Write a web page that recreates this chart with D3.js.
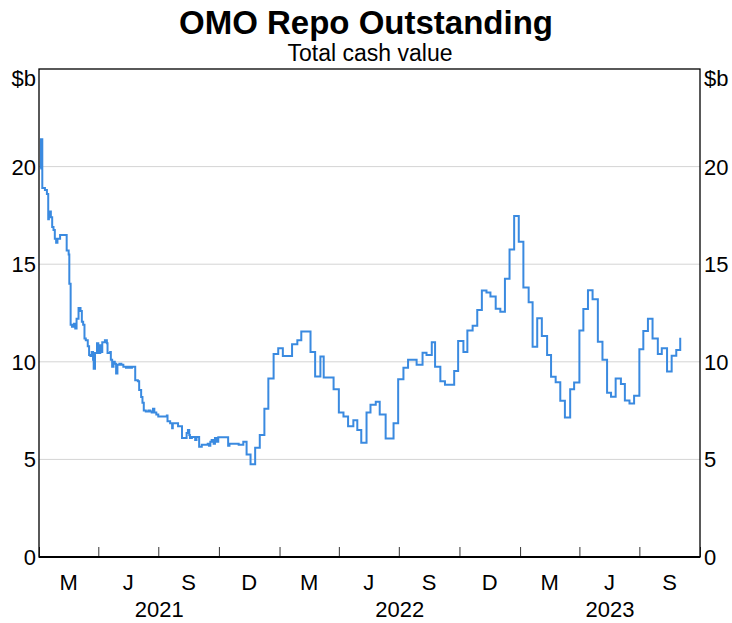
<!DOCTYPE html>
<html>
<head>
<meta charset="utf-8">
<script src="https://cdn.jsdelivr.net/npm/d3@7"></script>
<style>
body{margin:0;background:#fff;}
text{font-family:"Liberation Sans",Arial,Helvetica,sans-serif;fill:#000;}
</style>
</head>
<body>
<div id="chart"></div>
<script>
// step change dates and the value ($b) from that date on
var dates = ["2021-01-03","2021-01-04","2021-01-06","2021-01-10","2021-01-13","2021-01-15","2021-01-16","2021-01-19","2021-01-21","2021-01-23",
"2021-01-25","2021-01-27","2021-01-29","2021-02-02","2021-02-12","2021-02-15","2021-02-16","2021-02-18","2021-02-20","2021-02-23",
"2021-02-25","2021-02-27","2021-03-02","2021-03-05","2021-03-07","2021-03-09","2021-03-11","2021-03-13","2021-03-16","2021-03-18",
"2021-03-20","2021-03-22","2021-03-24","2021-03-25","2021-03-27","2021-03-30","2021-04-01","2021-04-04","2021-04-05","2021-04-07",
"2021-04-11","2021-04-14","2021-04-15","2021-04-19","2021-04-20","2021-04-22","2021-04-24","2021-04-26","2021-04-28","2021-04-30",
"2021-05-03","2021-05-06","2021-05-09","2021-05-13","2021-05-16","2021-05-19","2021-05-22","2021-05-27","2021-05-31","2021-06-02",
"2021-06-05","2021-06-07","2021-06-09","2021-06-12","2021-06-16","2021-06-19","2021-06-21","2021-06-23","2021-06-25","2021-06-28",
"2021-07-01","2021-07-14","2021-07-15","2021-07-19","2021-07-22","2021-07-23","2021-07-31","2021-08-06","2021-08-13","2021-08-15",
"2021-08-17","2021-08-18","2021-08-21","2021-08-26","2021-08-28","2021-09-01","2021-09-05","2021-09-14","2021-09-16","2021-09-18",
"2021-09-20","2021-09-23","2021-09-25","2021-09-28","2021-09-30","2021-10-15","2021-10-17","2021-10-31","2021-11-07","2021-11-12",
"2021-11-18","2021-11-25","2021-12-02","2021-12-09","2021-12-15","2021-12-23","2021-12-30","2022-01-06","2022-01-20","2022-01-28",
"2022-02-03","2022-02-17","2022-02-24","2022-03-04","2022-03-09","2022-03-24","2022-04-01","2022-04-08","2022-04-15","2022-04-23",
"2022-04-29","2022-05-05","2022-05-13","2022-05-19","2022-05-27","2022-06-02","2022-06-11","2022-06-23","2022-06-30","2022-07-08",
"2022-07-15","2022-07-28","2022-08-06","2022-08-12","2022-08-20","2022-08-25","2022-09-02","2022-09-09","2022-09-23","2022-09-29",
"2022-10-07","2022-10-13","2022-10-21","2022-10-28","2022-11-04","2022-11-11","2022-11-17","2022-11-25","2022-12-02","2022-12-09",
"2022-12-16","2022-12-23","2022-12-30","2023-01-06","2023-01-14","2023-01-20","2023-01-27","2023-02-03","2023-02-11","2023-02-17",
"2023-02-24","2023-03-03","2023-03-10","2023-03-18","2023-03-24","2023-04-01","2023-04-07","2023-04-14","2023-04-21","2023-04-29",
"2023-05-06","2023-05-13","2023-05-19","2023-05-26","2023-06-03","2023-06-09","2023-06-16","2023-06-23","2023-07-01","2023-07-07",
"2023-07-14","2023-07-21","2023-07-29","2023-08-04","2023-08-12","2023-08-19","2023-08-26","2023-09-01"];

var values = [19.9,21.4,18.9,18.8,18.6,17.3,17.7,17.4,16.9,16.75,
16.3,16.1,16.3,16.5,15.7,15.5,14.0,11.9,11.8,11.95,
11.7,12.2,12.75,12.6,12.05,11.9,11.2,11.1,10.8,10.35,
10.3,10.5,10.1,9.65,10.45,10.95,10.45,10.85,10.5,11.0,
11.1,10.95,10.45,10.5,10.1,9.75,10.0,9.9,9.4,9.85,
9.9,9.85,9.75,9.7,9.75,9.7,9.75,9.05,9.0,8.55,
8.2,7.9,7.5,7.45,7.5,7.45,7.4,7.6,7.4,7.3,
7.2,7.25,6.95,6.85,6.6,6.85,6.7,6.1,6.35,6.5,
6.25,6.1,6.15,6.0,6.15,5.65,5.75,5.8,5.7,5.9,
6.0,5.8,6.1,5.9,6.13,5.7,5.8,5.75,5.9,5.25,
4.75,5.6,6.25,7.6,9.15,10.4,10.7,10.3,10.9,11.1,
11.55,10.5,9.25,10.27,9.2,8.6,7.4,7.2,6.7,7.0,
6.5,5.85,7.4,7.8,7.95,7.3,6.07,6.85,9.1,9.7,
10.1,9.85,10.47,10.35,11.0,9.75,9.0,8.82,9.53,11.07,
10.5,11.6,11.85,12.65,13.65,13.55,13.35,12.72,12.57,14.25,
15.75,17.47,16.15,13.8,13.05,10.77,12.23,11.32,10.35,9.24,
8.95,8.0,7.15,8.6,8.94,11.6,12.7,13.67,13.2,11.03,
10.1,8.42,8.21,9.15,8.86,8.02,7.87,8.26,10.64,11.58,
12.2,11.2,10.4,10.69,9.5,10.31,10.6,11.23];

var yTicks = [0,5,10,15,20];
var monthLabels = ["M","J","S","D","M","J","S","D","M","J","S"];
var yearLabels = ["2021","2022","2023"];

var W = 732, H = 623;
var margin = {top: 69, right: 32, bottom: 66, left: 39};
var width = W - margin.left - margin.right,
    height = H - margin.top - margin.bottom;

var parse = d3.utcParse("%Y-%m-%d");
var start = parse("2021-01-01"), end = parse("2023-10-01");

var data = dates.map(function(d, i) { return {date: parse(d), value: values[i]}; });

var svg = d3.select("#chart").append("svg").attr("width", W).attr("height", H);

var x = d3.scaleUtc().domain([start, end]).range([0, width]);
var y = d3.scaleLinear().domain([0, 25]).range([height, 0]);

var g = svg.append("g").attr("transform", "translate(" + margin.left + "," + margin.top + ")");

// title
svg.append("text").attr("x", 366).attr("y", 34).attr("text-anchor", "middle")
    .style("font-size", "33px").style("font-weight", "bold").text("OMO Repo Outstanding");
svg.append("text").attr("x", 370).attr("y", 61).attr("text-anchor", "middle")
    .style("font-size", "23px").text("Total cash value");

// horizontal grid
g.append("g").selectAll("line").data(yTicks.filter(function(d) { return d > 0; }))
  .enter().append("line")
    .attr("x1", 0).attr("x2", width)
    .attr("y1", function(d) { return y(d); }).attr("y2", function(d) { return y(d); })
    .attr("stroke", "#d4d4d4").attr("stroke-width", 1);

// y labels both sides
var yl = g.append("g").style("font-size", "22px");
yl.selectAll(".yl").data(yTicks).enter().append("text")
    .attr("x", -3).attr("y", function(d) { return y(d); }).attr("dy", "0.36em")
    .attr("text-anchor", "end").text(function(d) { return d; });
yl.selectAll(".yr").data(yTicks).enter().append("text")
    .attr("x", width + 4).attr("y", function(d) { return y(d); }).attr("dy", "0.36em")
    .text(function(d) { return d; });
yl.append("text").attr("x", -3).attr("y", 17).attr("text-anchor", "end").text("$b");
yl.append("text").attr("x", width + 4).attr("y", 17).text("$b");

// quarter ticks on the x axis
g.append("g")
    .attr("transform", "translate(0," + height + ")")
    .call(d3.axisBottom(x).ticks(d3.utcMonth.every(3)).tickSize(-10).tickFormat(""))
    .call(function(a) { a.select(".domain").remove(); })
    .selectAll("line").attr("stroke", "#000").attr("stroke-width", 0.8);

// month letters centred in each quarter
var quarters = d3.utcMonth.every(3).range(start, end);
g.append("g").style("font-size", "22px").selectAll("text").data(quarters).enter().append("text")
    .attr("x", function(d, i) { return (x(d) + x(d3.utcMonth.offset(d, 3))) / 2; })
    .attr("y", height + 33).attr("text-anchor", "middle")
    .text(function(d, i) { return monthLabels[i]; });

// years
g.append("g").style("font-size", "22px").selectAll("text").data(yearLabels).enter().append("text")
    .attr("x", function(d) {
        var a = parse(d + "-01-01"), b = parse((+d + 1) + "-01-01");
        if (a < start) a = start;
        if (b > end) b = end;
        return (x(a) + x(b)) / 2;
    })
    .attr("y", height + 60).attr("text-anchor", "middle")
    .text(function(d) { return d; });

// the series
var line = d3.line()
    .curve(d3.curveStepAfter)
    .x(function(d) { return x(d.date); })
    .y(function(d) { return y(d.value); });

g.append("path").datum(data)
    .attr("fill", "none").attr("stroke", "#3a8ae0").attr("stroke-width", 2)
    .attr("stroke-linejoin", "miter")
    .attr("d", line);

// frame
g.append("rect").attr("x", 0).attr("y", 0).attr("width", width).attr("height", height)
    .attr("fill", "none").attr("stroke", "#000").attr("stroke-width", 1.3);
g.append("line").attr("x1", 0).attr("x2", width).attr("y1", height).attr("y2", height)
    .attr("stroke", "#000").attr("stroke-width", 2);
</script>
</body>
</html>
